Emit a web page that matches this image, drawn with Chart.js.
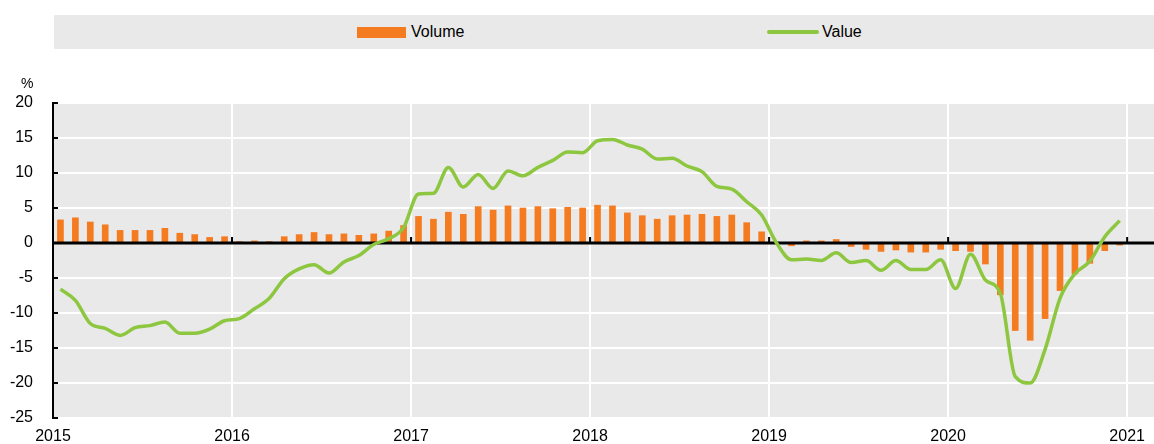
<!DOCTYPE html>
<html>
<head>
<meta charset="utf-8">
<script src="https://cdn.jsdelivr.net/npm/chart.js@4.4.0/dist/chart.umd.min.js"></script>
<style>
  body { margin: 0; background: #fff; font-family: "Liberation Sans", Arial, sans-serif; }
  #wrap { position: relative; width: 1154px; height: 444px; }
  canvas { display: block; }
  #legend { position: absolute; left: 54px; top: 15px; width: 1100px; height: 34px; background: #e9e9e9; }
  .item { position: absolute; top: 0; height: 34px; line-height: 34px; font-size: 16px; color: #000; }
  .swatch { position: absolute; }
  #unit { position: absolute; left: 21px; top: 75px; font-size: 14px; color: #000; }
</style>
</head>
<body>
<div id="wrap">
  <canvas id="chart" width="1154" height="444"></canvas>
  <div id="legend">
    <div class="swatch" style="left:303px;top:12px;width:49px;height:11px;background:#f47b20"></div>
    <div class="item" style="left:357px">Volume</div>
    <div class="swatch" style="left:713px;top:15px;width:52px;height:4px;border-radius:2px;background:#8dc63f"></div>
    <div class="item" style="left:768px">Value</div>
  </div>
  <div id="unit">%</div>
</div>
<script>
// monthly data, Jan 2015 - Dec 2020
const years = ['2015', '2016', '2017', '2018', '2019', '2020', '2021'];

const volume = [
  3.3, 3.6, 3.0, 2.6, 1.8, 1.8, 1.8, 2.1, 1.4, 1.2, 0.8, 0.9,
  0.2, 0.3, 0.2, 0.9, 1.2, 1.5, 1.2, 1.3, 1.1, 1.3, 1.7, 2.5,
  3.8, 3.4, 4.4, 4.1, 5.2, 4.7, 5.3, 5.0, 5.2, 4.9, 5.1, 5.0,
  5.4, 5.3, 4.3, 3.9, 3.4, 3.9, 4.0, 4.1, 3.8, 4.0, 2.9, 1.6,
  0.1, -0.4, 0.3, 0.3, 0.5, -0.5, -0.9, -1.2, -1.0, -1.3, -1.3, -0.9,
  -1.1, -1.2, -3.0, -7.4, -12.5, -13.9, -10.8, -6.8, -4.4, -2.9, -1.1, -0.3
];

const value = [
  -6.6, -8.2, -11.5, -12.2, -13.2, -12.1, -11.8, -11.3, -12.9, -12.9, -12.3, -11.1,
  -10.8, -9.4, -7.9, -5.1, -3.7, -3.1, -4.3, -2.7, -1.8, -0.2, 0.6, 2.2,
  7.0, 7.1, 10.8, 8.0, 9.8, 7.8, 10.3, 9.6, 10.8, 11.8, 13.0, 12.9,
  14.6, 14.8, 14.0, 13.4, 12.0, 12.1, 11.0, 10.2, 8.1, 7.7, 5.9, 4.0,
  0.0, -2.4, -2.3, -2.5, -1.4, -2.8, -2.5, -3.9, -2.5, -3.8, -3.8, -2.4,
  -6.5, -1.6, -5.3, -7.2, -19.1, -20.0, -15.2, -7.9, -4.4, -2.6, 0.9, 3.2
];

const yTicks = [20, 15, 10, 5, 0, -5, -10, -15, -20, -25];

// months sit in the middle of each month slot on a linear x axis
const volPoints = volume.map((v, i) => ({ x: i + 0.5, y: v }));
const valPoints = value.map((v, i) => ({ x: i + 0.5, y: v }));

const extras = {
  id: 'extras',
  beforeDatasetsDraw(chart) {
    const { ctx, chartArea, scales } = chart;
    // short inward ticks on the y axis
    ctx.save();
    ctx.strokeStyle = '#000';
    ctx.lineWidth = 2;
    yTicks.forEach(t => {
      const y = Math.round(scales.y.getPixelForValue(t));
      ctx.beginPath();
      ctx.moveTo(chartArea.left, y);
      ctx.lineTo(chartArea.left + 5, y);
      ctx.stroke();
    });
    ctx.restore();
  },
  afterDatasetDraw(chart, args) {
    if (args.index !== 0) return;
    const { ctx, chartArea, scales } = chart;
    const y0 = scales.y.getPixelForValue(0);
    ctx.save();
    ctx.strokeStyle = '#000';
    ctx.lineWidth = 3;
    ctx.beginPath();
    ctx.moveTo(chartArea.left, y0);
    ctx.lineTo(chartArea.right, y0);
    ctx.stroke();
    ctx.lineWidth = 2;
    years.forEach((yr, i) => {
      const x = scales.x.getPixelForValue(i * 12);
      ctx.beginPath();
      ctx.moveTo(x, y0);
      ctx.lineTo(x, y0 - 6);
      ctx.stroke();
    });
    ctx.restore();
  }
};

const bgPlugin = {
  id: 'plotBg',
  beforeDraw(chart) {
    const { ctx, chartArea } = chart;
    ctx.save();
    ctx.fillStyle = '#e9e9e9';
    ctx.fillRect(chartArea.left, chartArea.top, chartArea.right - chartArea.left, chartArea.bottom - chartArea.top);
    ctx.restore();
  }
};

new Chart(document.getElementById('chart'), {
  type: 'bar',
  data: {
    datasets: [
      {
        type: 'bar',
        label: 'Volume',
        data: volPoints,
        backgroundColor: '#f47b20',
        barThickness: 6,
        order: 1
      },
      {
        type: 'line',
        label: 'Value',
        data: valPoints,
        borderColor: '#8dc63f',
        borderWidth: 3.5,
        pointRadius: 0,
        cubicInterpolationMode: 'monotone',
        fill: false,
        order: 0
      }
    ]
  },
  options: {
    responsive: false,
    animation: false,
    layout: { padding: { top: 103, right: 0, bottom: 0, left: 0 } },
    plugins: {
      legend: { display: false },
      tooltip: { enabled: false }
    },
    scales: {
      x: {
        type: 'linear',
        min: 0,
        max: 73.8,
        offset: false,
        afterBuildTicks: s => { s.ticks = years.map((y, i) => ({ value: i * 12 })); },
        afterFit: s => { s.height = 26; s.paddingLeft = 0; s.paddingRight = 0; },
        grid: { color: '#fff', lineWidth: 2, drawTicks: false, offset: false },
        border: { display: false },
        ticks: {
          padding: 9,
          color: '#000',
          font: { family: 'Liberation Sans', size: 16 },
          maxRotation: 0,
          autoSkip: false,
          callback: (v, i) => years[i]
        }
      },
      y: {
        min: -25,
        max: 20,
        afterBuildTicks: s => { s.ticks = yTicks.map(v => ({ value: v })); },
        afterFit: s => { s.width = 53; s.paddingTop = 0; s.paddingBottom = 0; },
        grid: { color: '#fff', lineWidth: 2, drawTicks: false },
        border: { display: true, color: '#000', width: 2 },
        ticks: {
          padding: 20,
          color: '#000',
          font: { family: 'Liberation Sans', size: 16 }
        }
      }
    }
  },
  plugins: [bgPlugin, extras]
});
</script>
</body>
</html>
